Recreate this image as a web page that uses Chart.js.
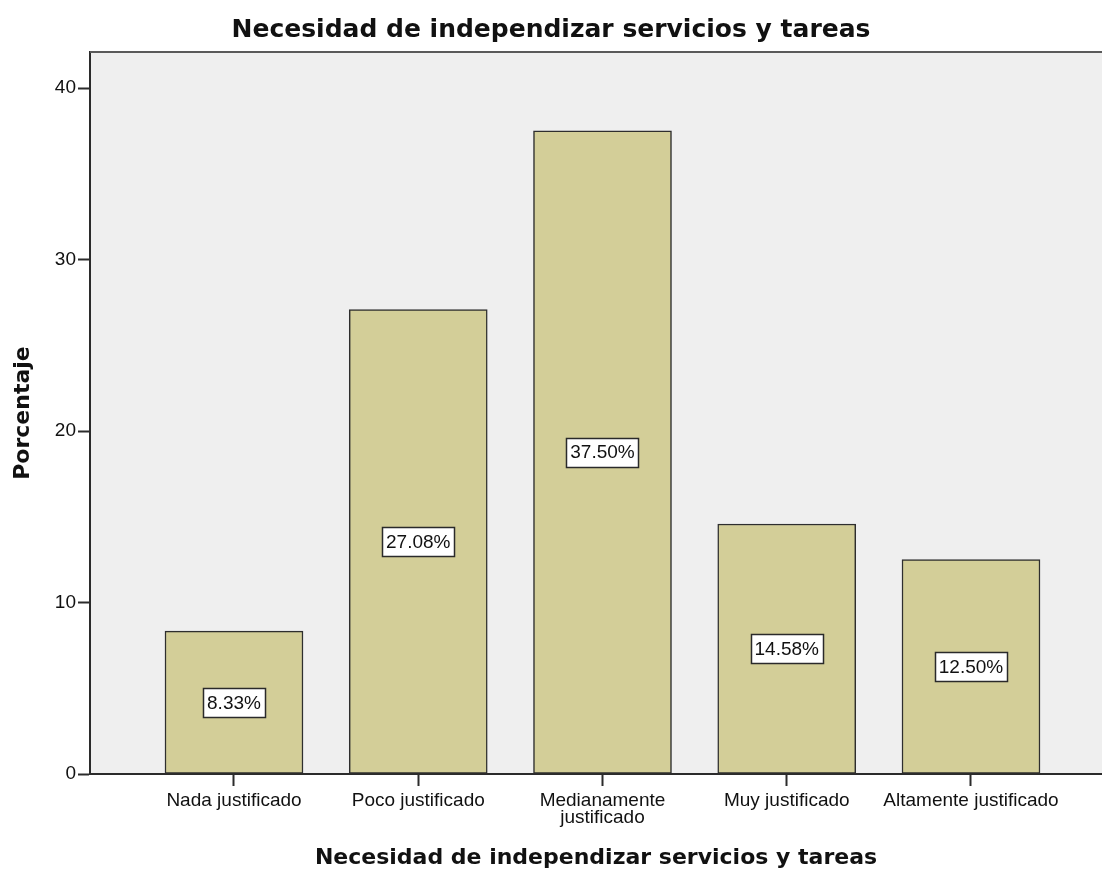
<!DOCTYPE html>
<html>
<head>
<meta charset="utf-8">
<title>Necesidad de independizar servicios y tareas</title>
<script src="https://cdn.jsdelivr.net/npm/chart.js@4.4.1/dist/chart.umd.min.js"></script>
<style>
  html, body { margin: 0; padding: 0; background: #ffffff; }
  #wrap { width: 1102px; height: 877px; position: relative; }
</style>
</head>
<body>
<div id="wrap"><canvas id="chart"></canvas></div>
<script>
// Categories (multi-line labels as arrays) and their percentages
const categories = ['Nada justificado', 'Poco justificado', ['Medianamente', 'justificado'], 'Muy justificado', 'Altamente justificado'];
const percentages = [8.33, 27.08, 37.50, 14.58, 12.50];
const yTickValues = [0, 10, 20, 30, 40];
const chartTitle = 'Necesidad de independizar servicios y tareas';
const xAxisTitle = 'Necesidad de independizar servicios y tareas';
const yAxisTitle = 'Porcentaje';

const TEXT = '#111111';
const AXIS = '#2b2b2b';

// Grey plot background plus the frame line along its top edge
const plotFrame = {
  id: 'plotFrame',
  beforeDraw(chart) {
    const { ctx, chartArea: a } = chart;
    ctx.save();
    ctx.fillStyle = '#efefef';
    ctx.fillRect(a.left, a.top, a.right - a.left, a.bottom - a.top);
    ctx.restore();
  },
  afterDraw(chart) {
    const { ctx, chartArea: a } = chart;
    ctx.save();
    ctx.strokeStyle = '#5a5a5a';
    ctx.lineWidth = 2;
    ctx.beginPath();
    ctx.moveTo(a.left, a.top);
    ctx.lineTo(a.right, a.top);
    ctx.stroke();
    ctx.restore();
  }
};

// Boxed percentage label in the middle of every bar
const boxedValues = {
  id: 'boxedValues',
  afterDatasetsDraw(chart) {
    const { ctx } = chart;
    const meta = chart.getDatasetMeta(0);
    ctx.save();
    ctx.font = '19px "Liberation Sans", Arial, sans-serif';
    ctx.textAlign = 'center';
    ctx.textBaseline = 'middle';
    meta.data.forEach((bar, i) => {
      const { x, y, base } = bar.getProps(['x', 'y', 'base'], true);
      const cy = (y + base) / 2;
      const text = percentages[i].toFixed(2) + '%';
      const w = Math.round(ctx.measureText(text).width + 8);
      const h = 29;
      const left = Math.round(x - w / 2) + 0.5;
      const top = Math.round(cy - h / 2) + 0.5;
      ctx.fillStyle = '#ffffff';
      ctx.fillRect(left, top, w, h);
      ctx.strokeStyle = '#2a2a2a';
      ctx.lineWidth = 1.5;
      ctx.strokeRect(left, top, w, h);
      ctx.fillStyle = TEXT;
      ctx.fillText(text, x, cy + 1);
    });
    ctx.restore();
  }
};

new Chart(document.getElementById('chart'), {
  type: 'bar',
  data: {
    datasets: [{
      data: percentages.map((v, i) => ({ x: i, y: v })),
      backgroundColor: '#d3ce98',
      borderColor: '#2e2e2e',
      borderWidth: 1.5,
      borderSkipped: false,
      barThickness: 138
    }]
  },
  plugins: [plotFrame, boxedValues],
  options: {
    responsive: true,
    maintainAspectRatio: false,
    animation: false,
    layout: { padding: 0 },
    plugins: {
      legend: { display: false },
      tooltip: { enabled: false },
      title: {
        display: true,
        text: chartTitle,
        color: TEXT,
        font: { family: '"DejaVu Sans", sans-serif', size: 25, weight: 'bold', lineHeight: 1.2 },
        padding: { top: 15, bottom: 7 }
      }
    },
    scales: {
      x: {
        type: 'linear',
        min: -0.7815,
        max: 4.711,
        offset: false,
        afterBuildTicks(scale) {
          scale.ticks = categories.map((_, i) => ({ value: i }));
        },
        afterFit(scale) { scale.height = 103; },
        border: { display: true, color: AXIS, width: 2 },
        grid: {
          display: true,
          offset: false,
          drawOnChartArea: false,
          drawTicks: true,
          tickLength: 12,
          tickColor: AXIS,
          tickWidth: 2
        },
        ticks: {
          autoSkip: false,
          maxRotation: 0,
          minRotation: 0,
          padding: 6,
          color: TEXT,
          font: { family: '"Liberation Sans", Arial, sans-serif', size: 19, lineHeight: 0.92 },
          callback: (value) => categories[value]
        },
        title: {
          display: true,
          text: xAxisTitle,
          color: TEXT,
          font: { family: '"DejaVu Sans", sans-serif', size: 22, weight: 'bold', lineHeight: 1.2 },
          padding: { top: 0, bottom: 6 }
        }
      },
      y: {
        type: 'linear',
        min: 0,
        max: 42.1,
        afterBuildTicks(scale) {
          scale.ticks = yTickValues.map(v => ({ value: v }));
        },
        afterFit(scale) { scale.width = 90; },
        border: { display: true, color: AXIS, width: 2 },
        grid: {
          display: true,
          drawOnChartArea: false,
          drawTicks: true,
          tickLength: 12,
          tickColor: AXIS,
          tickWidth: 2
        },
        ticks: {
          padding: 2,
          color: TEXT,
          font: { family: '"Liberation Sans", Arial, sans-serif', size: 19 }
        },
        title: {
          display: true,
          text: yAxisTitle,
          color: TEXT,
          font: { family: '"DejaVu Sans", sans-serif', size: 22, weight: 'bold', lineHeight: 1.2 },
          padding: { top: 10, bottom: 0 }
        }
      }
    }
  }
});
</script>
</body>
</html>
